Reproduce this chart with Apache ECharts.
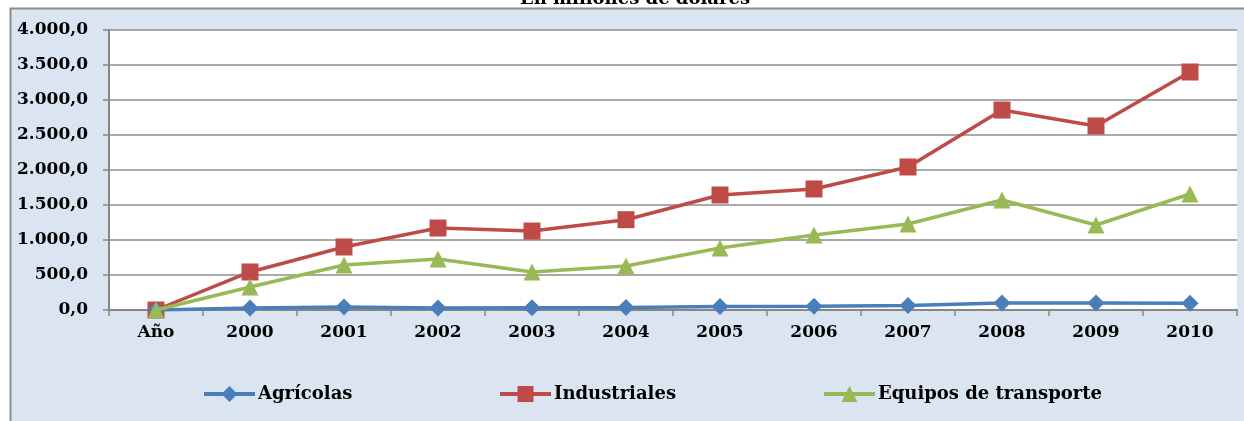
<!DOCTYPE html>
<html><head><meta charset="utf-8">
<script src="https://cdn.jsdelivr.net/npm/echarts@6/dist/echarts.min.js"></script>
<style>html,body{margin:0;padding:0;background:#fff}#c{width:1244px;height:421px}</style>
</head><body><div id="c"></div>
<script>
const categories = ['Año','2000','2001','2002','2003','2004','2005','2006','2007','2008','2009','2010'];
const agricolas = [0, 29, 43, 30, 32, 35, 50, 55, 65, 100, 100, 95];
const industriales = [0, 543, 900, 1171, 1128, 1290, 1643, 1729, 2043, 2857, 2629, 3400];
const equipos = [0, 329, 643, 729, 543, 629, 886, 1071, 1229, 1571, 1214, 1657];
const seriesNames = ['Agrícolas','Industriales','Equipos de transporte'];
const titleText = 'En millones de dólares';

function fmt(v){
  const s = Math.abs(v).toFixed(1).split('.');
  const int = s[0].replace(/\B(?=(\d{3})+(?!\d))/g, '.');
  return (v<0?'-':'') + int + ',' + s[1];
}
const font = '"DejaVu Serif",serif';
const chart = echarts.init(document.getElementById('c'), null, {renderer:'canvas'});
const colors = ['#4a7ebb','#be4b48','#98b954'];
const symbols = ['diamond','rect','triangle'];
const sizes = [17,17,17];
const datas = [agricolas, industriales, equipos];
chart.setOption({
  animation:false,
  backgroundColor:'#ffffff',
  graphic:[{type:'rect', z:-10, shape:{x:10.5,y:8.5,width:1260,height:440},
    style:{fill:'#dbe5f1', stroke:'#8c8c8c', lineWidth:2}}],
  title:{text:titleText, left:630, textAlign:'center', top:-15,
    textStyle:{fontFamily:font, fontWeight:'bold', fontSize:18, color:'#000'}},
  grid:{left:109, right:7, top:30, height:280, show:true, backgroundColor:'#fff', borderWidth:0},
  legend:[0,1,2].map(i=>({
    data:[seriesNames[i]], left:[197,493,817][i], top:380,
    itemWidth:51, itemHeight:20, itemGap:0,
    lineStyle:{width:4},
    textStyle:{fontFamily:font, fontWeight:'bold', fontSize:18, color:'#000', padding:[0,0,0,-2]}
  })),
  xAxis:{type:'category', data:categories, boundaryGap:true,
    axisLine:{lineStyle:{color:'#868686', width:2}},
    axisTick:{show:true, length:6, lineStyle:{color:'#868686', width:1.5}},
    axisLabel:{fontFamily:font, fontWeight:'bold', fontSize:17, color:'#000', margin:14}},
  yAxis:{type:'value', min:0, max:4000, interval:500,
    axisLine:{show:true, lineStyle:{color:'#868686', width:2}},
    axisTick:{show:true, length:6, lineStyle:{color:'#868686', width:1.5}},
    splitLine:{lineStyle:{color:'#8c8c8c', width:1.5}},
    axisLabel:{fontFamily:font, fontWeight:'bold', fontSize:17, color:'#000', margin:21, formatter:fmt}},
  series:[0,1,2].map(i=>({
    name:seriesNames[i], type:'line', data:datas[i],
    symbol:symbols[i], symbolSize:sizes[i], showAllSymbol:true,
    lineStyle:{color:colors[i], width:3.5},
    itemStyle:{color:colors[i]},
    z: [4,3,5][i]
  }))
});
</script></body></html>
